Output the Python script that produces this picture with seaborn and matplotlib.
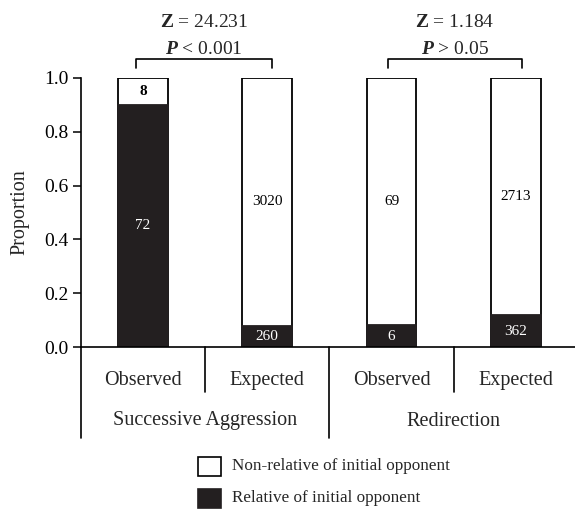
import matplotlib
matplotlib.use("Agg")
import matplotlib.pyplot as plt
import matplotlib.transforms as mtransforms
from matplotlib.patches import Rectangle
import seaborn as sns
import pandas as pd

# ---- data ----
bar_ids = ["SA_obs", "SA_exp", "RD_obs", "RD_exp"]
sub_labels = ["Observed", "Expected", "Observed", "Expected"]
group_labels = ["Successive Aggression", "Redirection"]
relative_counts = [72, 260, 6, 362]
nonrelative_counts = [8, 3020, 69, 2713]
z_labels = ["24.231", "1.184"]
p_labels = ["< 0.001", "> 0.05"]
legend_labels = ["Non-relative of initial opponent", "Relative of initial opponent"]
y_ticks = [0.0, 0.2, 0.4, 0.6, 0.8, 1.0]

totals = [r + n for r, n in zip(relative_counts, nonrelative_counts)]
df = pd.DataFrame({
    "bar": bar_ids,
    "full": [1.0] * 4,
    "rel": [r / t for r, t in zip(relative_counts, totals)],
})

sns.set_theme(style="ticks")
plt.rcParams["font.family"] = ["Liberation Serif", "DejaVu Serif"]
plt.rcParams["mathtext.fontset"] = "custom"
plt.rcParams["mathtext.rm"] = "Liberation Serif"
plt.rcParams["mathtext.bf"] = "Liberation Serif:bold"
plt.rcParams["mathtext.it"] = "Liberation Serif:italic"
plt.rcParams["mathtext.bfit"] = "Liberation Serif:italic:bold"

W, H = 575, 514
fig = plt.figure(figsize=(W / 100, H / 100), dpi=100)
ax_left, ax_right = 80.7, 578.0
ax_top, ax_bot = 78.0, 347.0
ax = fig.add_axes([ax_left / W, (H - ax_bot) / H, (ax_right - ax_left) / W, (ax_bot - ax_top) / H])

dark = "#231f20"
sns.barplot(data=df, x="bar", y="full", order=bar_ids, color="white", saturation=1,
            edgecolor="black", linewidth=1.3, width=0.40, errorbar=None, ax=ax)
sns.barplot(data=df, x="bar", y="rel", order=bar_ids, color=dark, saturation=1,
            edgecolor=dark, linewidth=1.3, width=0.40, errorbar=None, ax=ax)

ax.set_xlim(-0.5, 3.5)
ax.set_ylim(0, 1.0)
ax.set_yticks(y_ticks)
ax.set_yticklabels([f"{t:.1f}" for t in y_ticks], fontsize=14)
ax.tick_params(axis="y", direction="out", length=6, width=1.1, color="black", pad=3, labelcolor="black")
ax.tick_params(axis="x", length=0, labelbottom=False)
ax.set_xlabel("")
ax.set_ylabel("Proportion", fontsize=14.5, labelpad=10)
for s in ["top", "right"]:
    ax.spines[s].set_visible(False)
ax.spines["left"].set_linewidth(1.2)
ax.spines["bottom"].set_linewidth(1.2)
ax.spines["left"].set_color("black")
ax.spines["bottom"].set_color("black")

# segment labels
for i in range(4):
    rel = df["rel"][i]
    ax.text(i, rel / 2, str(relative_counts[i]), ha="center", va="center",
            color="white", fontsize=11)
    ax.text(i, (rel + 1.0) / 2, str(nonrelative_counts[i]), ha="center", va="center",
            color="black", fontsize=11, fontweight="bold" if i == 0 else "normal")

# hierarchical x axis
trans = mtransforms.blended_transform_factory(ax.transData, ax.transAxes)
def yfrac(py):
    return (ax_bot - py) / (ax_bot - ax_top)

ax.plot([-0.5, -0.5], [0, yfrac(438)], transform=trans, color="black", lw=1.2, clip_on=False)
for xs, ybot in [(0.5, 392), (1.5, 438), (2.5, 392)]:
    ax.plot([xs, xs], [0, yfrac(ybot)], transform=trans, color="black", lw=1.2, clip_on=False)
for i, lab in enumerate(sub_labels):
    ax.text(i, yfrac(385), lab, transform=trans, ha="center", va="baseline", fontsize=14.5)
for g, lab in enumerate(group_labels):
    ax.text(0.5 + 2 * g, yfrac(425.5), lab, transform=trans, ha="center", va="baseline", fontsize=14.5)

# significance brackets
brackets = [(-0.055, 1.04), (1.97, 3.05)]
for (x0, x1), z, p in zip(brackets, z_labels, p_labels):
    yt, yb = yfrac(59), yfrac(68.5)
    ax.plot([x0, x0, x1, x1], [yb, yt, yt, yb], transform=trans, color="black", lw=1.2, clip_on=False)
    xc = (x0 + x1) / 2
    ax.text(xc, yfrac(54.5), r"$\mathbfit{P}$ " + p, transform=trans, ha="center", va="baseline", fontsize=14)
    ax.text(xc, yfrac(27), r"$\mathbf{Z}$ = " + z, transform=trans, ha="center", va="baseline", fontsize=14)

# legend
for j, (lab, fc) in enumerate(zip(legend_labels, ["white", dark])):
    top = 457 + 32 * j
    fig.add_artist(Rectangle((198 / W, (H - top - 19) / H), 23 / W, 19 / H,
                             transform=fig.transFigure, facecolor=fc, edgecolor="black" if j == 0 else dark, lw=1.2))
    fig.text(232 / W, (H - top - 9.5) / H, lab, ha="left", va="center", fontsize=12.3)

fig.savefig("out.png", dpi=100)
